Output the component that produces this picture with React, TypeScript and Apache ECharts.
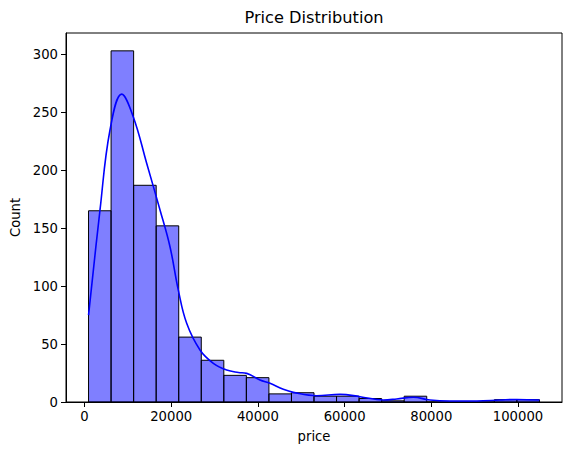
import React, { useEffect, useRef } from "react";
import * as echarts from "echarts";

const binStart = 933;
const binWidth = 5200.8;
const counts = [165, 303, 187, 152, 56, 36, 23, 21, 7, 8, 5, 5, 3, 1, 5, 0, 0, 0, 2, 2];

const kdeX = [933, 3575, 5880, 8580, 11260, 14340, 17420, 19720, 21640, 23570, 26640, 29720, 32800, 35500, 37420, 40480, 42790, 45860, 48170, 53560, 58940, 63550, 68930, 72020, 75850, 79700, 84300, 90500, 95800, 99700, 104949];
const kdeY = [75, 165.7, 234.7, 265.7, 246, 206, 165.7, 134, 96.6, 67.9, 44.9, 33.4, 27.6, 25.5, 24.7, 19, 16.1, 10.9, 8.3, 5.4, 6.6, 4.6, 1.7, 2.6, 4.1, 1.7, 0.9, 0.9, 1.7, 2.2, 1.7];

const xTicks = [0, 20000, 40000, 60000, 80000, 100000];
const yTicks = [0, 50, 100, 150, 200, 250, 300];

const FONT = "DejaVu Sans";

export default function App() {
  const ref = useRef<HTMLDivElement>(null);
  useEffect(() => {
    if (!ref.current) return;
    const chart = echarts.init(ref.current, null, { renderer: "svg" });
    const bars = counts.map((c, i) => [binStart + i * binWidth, binStart + (i + 1) * binWidth, c]);
    const kde = kdeX.map((x, i) => [x, kdeY[i]]);
    chart.setOption({
      animation: false,
      backgroundColor: "#ffffff",
      grid: {
        left: 66,
        right: 9,
        top: 33,
        bottom: 53,
        show: true,
        borderColor: "#000",
        borderWidth: 1,
        backgroundColor: "transparent",
      },
      graphic: [
        {
          type: "text",
          x: 314,
          y: 17,
          style: {
            text: "Price Distribution",
            font: `16.2px "${FONT}"`,
            fill: "#000",
            textAlign: "center",
            textVerticalAlign: "middle",
          },
        },
      ],
      xAxis: {
        type: "value",
        min: -4268,
        max: 110150,
        name: "price",
        nameLocation: "middle",
        nameGap: 28,
        nameTextStyle: { fontFamily: FONT, fontSize: 13.2, color: "#000" },
        splitLine: { show: false },
        axisLine: { show: true, onZero: false, lineStyle: { color: "#000", width: 1 } },
        axisTick: { show: true, inside: false, length: 5, lineStyle: { color: "#000" }, customValues: xTicks },
        axisLabel: {
          color: "#000",
          fontFamily: FONT,
          fontSize: 13.2,
          margin: 8,
          customValues: xTicks,
          formatter: (v: number) => String(v),
        },
      },
      yAxis: {
        type: "value",
        min: 0,
        max: 318.4,
        name: "Count",
        nameLocation: "middle",
        nameGap: 44,
        nameRotate: 90,
        nameTextStyle: { fontFamily: FONT, fontSize: 13.2, color: "#000" },
        splitLine: { show: false },
        axisLine: { show: true, onZero: false, lineStyle: { color: "#000", width: 1 } },
        axisTick: { show: true, inside: false, length: 5, lineStyle: { color: "#000" }, customValues: yTicks },
        axisLabel: {
          color: "#000",
          fontFamily: FONT,
          fontSize: 13.2,
          margin: 8,
          customValues: yTicks,
          formatter: (v: number) => String(v),
        },
      },
      series: [
        {
          type: "custom",
          data: bars,
          encode: { x: [0, 1], y: 2 },
          renderItem: (params: any, api: any) => {
            const p0 = api.coord([api.value(0), api.value(2)]);
            const p1 = api.coord([api.value(1), 0]);
            return {
              type: "rect",
              shape: { x: p0[0], y: p0[1], width: p1[0] - p0[0], height: p1[1] - p0[1] },
              style: { fill: "rgba(0,0,255,0.5)", stroke: "#000", lineWidth: 1 },
            };
          },
          z: 2,
        },
        {
          type: "line",
          data: kde,
          smooth: 0.4,
          showSymbol: false,
          symbol: "none",
          lineStyle: { color: "#0000ff", width: 1.6 },
          z: 3,
        },
      ],
    });
    return () => chart.dispose();
  }, []);
  return (
    <div
      ref={ref}
      style={{ position: "fixed", left: 0, top: 0, width: 571, height: 455, background: "#fff" }}
    />
  );
}
